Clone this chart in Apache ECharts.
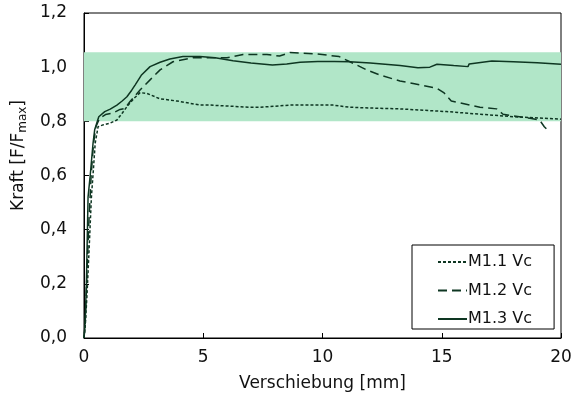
<!DOCTYPE html>
<html>
<head>
<meta charset="utf-8">
<script src="https://cdn.jsdelivr.net/npm/echarts@6/dist/echarts.min.js"></script>
<style>html,body{margin:0;padding:0;background:#fff;}#c{width:575px;height:401px;}</style>
</head>
<body>
<div id="c"></div>
<script>
const xTicks = [0, 5, 10, 15, 20];
const yTicks = [0.0, 0.2, 0.4, 0.6, 0.8, 1.0, 1.2];
const seriesNames = ['M1.1 Vc', 'M1.2 Vc', 'M1.3 Vc'];
const bandRange = [0.8, 1.055];

const m11X = [0, 0.05, 0.12, 0.2, 0.31, 0.4, 0.47, 0.59, 0.8, 1.09, 1.38, 1.6, 1.8, 2.1, 2.35, 2.64, 3.19, 3.9, 4.86, 5.28, 6.96, 7.38, 8.64, 10.44, 11.15, 12.4, 13.25, 15.2, 18.0, 20.0];
const m11Y = [0, 0.04, 0.15, 0.3, 0.52, 0.63, 0.72, 0.78, 0.787, 0.793, 0.805, 0.83, 0.854, 0.885, 0.906, 0.903, 0.883, 0.875, 0.860, 0.860, 0.852, 0.852, 0.860, 0.860, 0.852, 0.848, 0.846, 0.836, 0.817, 0.808];

const m12X = [0, 0.05, 0.1, 0.2, 0.3, 0.4, 0.5, 0.65, 0.9, 1.2, 1.51, 1.72, 1.93, 2.35, 2.77, 3.19, 3.73, 4.57, 5.3, 6.0, 6.67, 7.67, 8.2, 8.64, 9.77, 10.7, 11.15, 11.85, 12.4, 13.25, 13.8, 14.8, 15.1, 15.4, 16.6, 17.3, 17.57, 18.7, 19.1, 19.3, 19.5];
const m12Y = [0, 0.05, 0.18, 0.42, 0.6, 0.72, 0.78, 0.81, 0.825, 0.83, 0.844, 0.848, 0.873, 0.916, 0.953, 0.990, 1.020, 1.035, 1.035, 1.035, 1.047, 1.047, 1.041, 1.054, 1.049, 1.039, 1.02, 0.990, 0.971, 0.949, 0.940, 0.922, 0.905, 0.875, 0.852, 0.846, 0.826, 0.811, 0.805, 0.78, 0.762];

const m13X = [0, 0.05, 0.1, 0.17, 0.26, 0.38, 0.45, 0.62, 0.87, 1.1, 1.38, 1.6, 1.8, 2.0, 2.14, 2.4, 2.77, 3.19, 3.6, 4.15, 4.86, 5.5, 6.25, 7.0, 7.9, 8.5, 9.06, 9.8, 10.5, 11.15, 12.0, 13.25, 14.0, 14.5, 14.8, 15.5, 16.1, 16.15, 17.1, 18.0, 19.0, 20.0];
const m13Y = [0, 0.06, 0.2, 0.52, 0.60, 0.72, 0.77, 0.817, 0.836, 0.845, 0.86, 0.875, 0.891, 0.915, 0.934, 0.97, 1.002, 1.018, 1.03, 1.039, 1.039, 1.035, 1.024, 1.015, 1.008, 1.012, 1.018, 1.021, 1.021, 1.02, 1.015, 1.006, 0.998, 1.0, 1.011, 1.006, 1.002, 1.012, 1.023, 1.02, 1.016, 1.011];

const lineColor = '#0e3622';
const font = 'DejaVu Sans';
function pairs(xs, ys) { return xs.map((x, i) => [x, ys[i]]); }

const chart = echarts.init(document.getElementById('c'), null, {renderer: 'canvas'});
chart.setOption({
  animation: false,
  backgroundColor: '#fff',
  grid: {left: 84, right: 14, top: 13, bottom: 63, show: true, borderColor: '#000', borderWidth: 1},
  xAxis: {
    type: 'value', min: xTicks[0], max: xTicks[xTicks.length - 1], interval: 5,
    name: 'Verschiebung [mm]', nameLocation: 'middle', nameGap: 37,
    nameTextStyle: {fontFamily: font, fontSize: 17, color: '#111'},
    axisLine: {show: true, lineStyle: {color: '#000', width: 1}},
    axisTick: {show: true, inside: true, length: 5, lineStyle: {color: '#000'}},
    axisLabel: {fontFamily: font, fontSize: 17, color: '#111', margin: 11},
    splitLine: {show: false}
  },
  yAxis: {
    type: 'value', min: yTicks[0], max: yTicks[yTicks.length - 1], interval: 0.2,
    name: 'Kraft [F/F{sub|max}]', nameLocation: 'middle', nameGap: 47, nameRotate: 90,
    nameTextStyle: {fontFamily: font, fontSize: 17, color: '#111', padding: [0, 0, 0, 40],
      rich: {sub: {fontFamily: font, fontSize: 12, color: '#111', verticalAlign: 'bottom', padding: [9, 0, 0, 0]}}},
    axisLine: {show: true, lineStyle: {color: '#000', width: 1}},
    axisTick: {show: true, inside: true, length: 5, lineStyle: {color: '#000'}},
    axisLabel: {fontFamily: font, fontSize: 17, color: '#111', margin: 17,
      formatter: v => v.toFixed(1).replace('.', ',')},
    splitLine: {show: false}
  },
  legend: {
    orient: 'vertical', left: 412, top: 245,
    padding: [9, 22, 2, 25], itemGap: 12.5, itemWidth: 29, itemHeight: 14,
    borderColor: '#000', borderWidth: 1, backgroundColor: '#fff',
    itemStyle: {opacity: 0},
    textStyle: {fontFamily: font, fontSize: 16, lineHeight: 14, color: '#111', padding: [0, 0, 0, -4]},
    data: seriesNames
  },
  series: [
    {
      name: seriesNames[0], type: 'line', symbol: 'none', z: 3,
      lineStyle: {color: lineColor, width: 1.5, type: [3, 2]},
      itemStyle: {color: lineColor},
      data: pairs(m11X, m11Y),
      markArea: {silent: true, itemStyle: {color: '#b1e6c8'},
        data: [[{yAxis: bandRange[0]}, {yAxis: bandRange[1]}]]}
    },
    {
      name: seriesNames[1], type: 'line', symbol: 'none', z: 3,
      lineStyle: {color: lineColor, width: 1.5, type: [9, 5]},
      itemStyle: {color: lineColor},
      data: pairs(m12X, m12Y)
    },
    {
      name: seriesNames[2], type: 'line', symbol: 'none', z: 3,
      lineStyle: {color: lineColor, width: 1.5, type: 'solid'},
      itemStyle: {color: lineColor},
      data: pairs(m13X, m13Y)
    }
  ]
});
</script>
</body>
</html>
